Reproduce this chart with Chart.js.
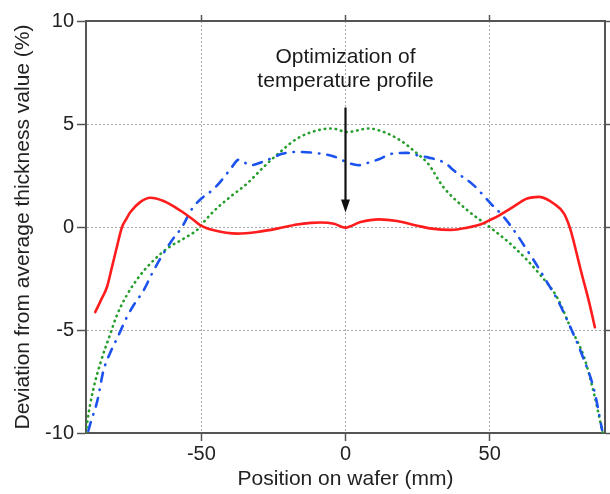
<!DOCTYPE html>
<html>
<head>
<meta charset="utf-8">
<script src="https://cdn.jsdelivr.net/npm/chart.js@4"></script>
<style>
  body { margin: 0; background: #fff; }
  #wrap { width: 610px; height: 494px; }
</style>
</head>
<body>
<div id="wrap"><canvas id="waferChart"></canvas></div>
<script>
const redX = [-86.8, -84.8, -82.7, -81, -79.3, -77.5, -76, -74.6, -71.2, -67.7, -63.1, -57.3, -52.6, -50.3, -45.6, -37.5, -30.6, -23.7, -16.8, -12, -8.7, -4, 0, 5.2, 11.6, 17.9, 24.9, 30, 36.5, 42.3, 47, 50, 53.5, 57.3, 63, 67.2, 72.3, 75.8, 78.1, 79.9, 81.6, 84.4, 86.5];
const redY = [-4.13, -3.55, -2.9, -1.95, -0.97, 0, 0.4, 0.73, 1.21, 1.42, 1.26, 0.8, 0.33, 0.08, -0.16, -0.32, -0.24, -0.08, 0.12, 0.2, 0.22, 0.16, -0.03, 0.24, 0.37, 0.29, 0.06, -0.08, -0.14, -0.03, 0.13, 0.33, 0.58, 0.9, 1.38, 1.46, 1.13, 0.65, -0.16, -1.13, -2.1, -3.6, -4.87];

const blueX = [-89.2, -88.5, -86, -84, -81.6, -79.2, -75.8, -73.5, -70, -67.1, -64.2, -60.2, -56.7, -53.2, -50, -45.6, -42.2, -39.4, -37, -33, -29, -25.5, -22, -18, -15.6, -8.7, -3.5, 0.6, 4.6, 8.1, 11.6, 16.2, 21.4, 24.9, 28.5, 34.7, 37.5, 44.5, 50.3, 55, 59.6, 63, 66, 70, 73.6, 78, 82.3, 86.2, 89];
const blueY = [-9.9, -9.55, -8.4, -7.0, -6.1, -5.4, -4.37, -3.8, -3.07, -2.26, -1.53, -0.65, 0, 0.89, 1.38, 1.86, 2.4, 2.91, 3.27, 3.0, 3.15, 3.35, 3.55, 3.64, 3.64, 3.56, 3.4, 3.13, 3.0, 3.13, 3.29, 3.56, 3.6, 3.48, 3.38, 3.09, 2.75, 2.02, 1.15, 0.47, -0.4, -1.13, -1.77, -2.7, -3.56, -4.87, -6.3, -7.9, -9.85];

const greenX = [-90, -89.6, -87.5, -85, -81.6, -79.3, -75.8, -71.7, -67.7, -61.9, -56.2, -51, -50, -45.6, -40, -34.2, -28.4, -22.6, -16.8, -9.8, -4.6, 0.6, 8.1, 13.3, 19.1, 24.9, 28.5, 34, 42.3, 50, 58.4, 67.7, 73.6, 78, 82.7, 86.2, 89.2];
const greenY = [-10, -9.5, -7.9, -6.6, -5.2, -4.29, -3.3, -2.43, -1.78, -1.05, -0.57, -0.08, 0.1, 0.78, 1.46, 2.1, 2.91, 3.65, 4.29, 4.69, 4.78, 4.61, 4.78, 4.61, 4.2, 3.56, 3.1, 1.93, 0.81, 0, -0.97, -2.35, -3.47, -4.87, -6.3, -8.1, -10];

const xTicks = [-50, 0, 50];
const yTicks = [-10, -5, 0, 5, 10];
const noteLines = ['Optimization of', 'temperature profile'];
const noteLineY = [8.24, 7.1];
const arrowFromY = 5.8;
const arrowToY = 0.7;

const FONT = "'Liberation Sans', Arial, sans-serif";

function pts(xs, ys) {
    return xs.map((x, i) => ({ x: x, y: ys[i] }));
}

function lineSet(xs, ys, color, dash, cap) {
    return {
        data: pts(xs, ys),
        borderColor: color,
        borderWidth: 2.6,
        borderDash: dash,
        borderCapStyle: cap,
        pointRadius: 0,
        cubicInterpolationMode: 'monotone',
        fill: false
    };
}

const noteArrow = {
    id: 'noteArrow',
    afterDatasetsDraw(chart) {
        const ctx = chart.ctx;
        const xs = chart.scales.x, ys = chart.scales.y;
        const cx = xs.getPixelForValue(0);
        ctx.save();
        ctx.fillStyle = '#1a1a1a';
        ctx.font = '21px ' + FONT;
        ctx.textAlign = 'center';
        ctx.textBaseline = 'middle';
        noteLines.forEach((t, i) => ctx.fillText(t, cx, ys.getPixelForValue(noteLineY[i])));
        const y1 = ys.getPixelForValue(arrowFromY);
        const y2 = ys.getPixelForValue(arrowToY);
        ctx.strokeStyle = '#111';
        ctx.lineWidth = 2.2;
        ctx.beginPath();
        ctx.moveTo(cx, y1);
        ctx.lineTo(cx, y2 - 10);
        ctx.stroke();
        ctx.fillStyle = '#111';
        ctx.beginPath();
        ctx.moveTo(cx, y2);
        ctx.lineTo(cx - 4.5, y2 - 13);
        ctx.lineTo(cx + 4.5, y2 - 13);
        ctx.closePath();
        ctx.fill();
        ctx.restore();
    }
};

const gridOpts = { color: '#a8a8a8', lineWidth: 1, tickColor: '#555', tickWidth: 1.5 };
const borderOpts = { color: '#555', width: 2, dash: [2, 2] };

new Chart(document.getElementById('waferChart'), {
    type: 'line',
    data: {
        datasets: [
            lineSet(redX, redY, 'rgb(255,28,28)', [], 'round'),
            lineSet(blueX, blueY, 'rgb(28,82,238)', [9, 8, 0.5, 8], 'round'),
            lineSet(greenX, greenY, 'rgb(38,158,44)', [0.5, 5], 'round')
        ]
    },
    plugins: [noteArrow],
    options: {
        responsive: true,
        maintainAspectRatio: false,
        animation: false,
        layout: { padding: 0 },
        plugins: { legend: { display: false }, tooltip: { enabled: false } },
        scales: {
            x: {
                type: 'linear',
                position: 'bottom',
                min: -90,
                max: 90,
                afterBuildTicks: s => { s.ticks = xTicks.map(v => ({ value: v })); },
                afterFit: s => { s.height = 61; },
                ticks: { font: { size: 20, family: FONT }, color: '#222', padding: 1, maxRotation: 0 },
                grid: Object.assign({ tickLength: 8 }, gridOpts),
                border: borderOpts,
                title: { display: true, text: 'Position on wafer (mm)', font: { size: 21, family: FONT }, color: '#222', padding: { top: 0, bottom: 2 } }
            },
            x2: {
                type: 'linear',
                position: 'top',
                display: true,
                min: -90,
                max: 90,
                afterBuildTicks: s => { s.ticks = xTicks.map(v => ({ value: v })); },
                afterFit: s => { s.height = 21; },
                ticks: { display: false },
                grid: Object.assign({ tickLength: 6, drawOnChartArea: false }, gridOpts),
                border: borderOpts
            },
            y: {
                type: 'linear',
                position: 'left',
                min: -10,
                max: 10,
                afterBuildTicks: s => { s.ticks = yTicks.map(v => ({ value: v })); },
                afterFit: s => { s.width = 86; },
                ticks: { font: { size: 20, family: FONT }, color: '#222', padding: 3 },
                grid: Object.assign({ tickLength: 9 }, gridOpts),
                border: borderOpts,
                title: { display: true, text: 'Deviation from average thickness value (%)', font: { size: 21, family: FONT }, color: '#222', padding: { top: 11, bottom: 0 } }
            },
            y2: {
                type: 'linear',
                position: 'right',
                display: true,
                min: -10,
                max: 10,
                afterBuildTicks: s => { s.ticks = yTicks.map(v => ({ value: v })); },
                afterFit: s => { s.width = 5; },
                ticks: { display: false },
                grid: Object.assign({ tickLength: 5, drawOnChartArea: false }, gridOpts),
                border: borderOpts
            }
        }
    }
});
</script>
</body>
</html>
